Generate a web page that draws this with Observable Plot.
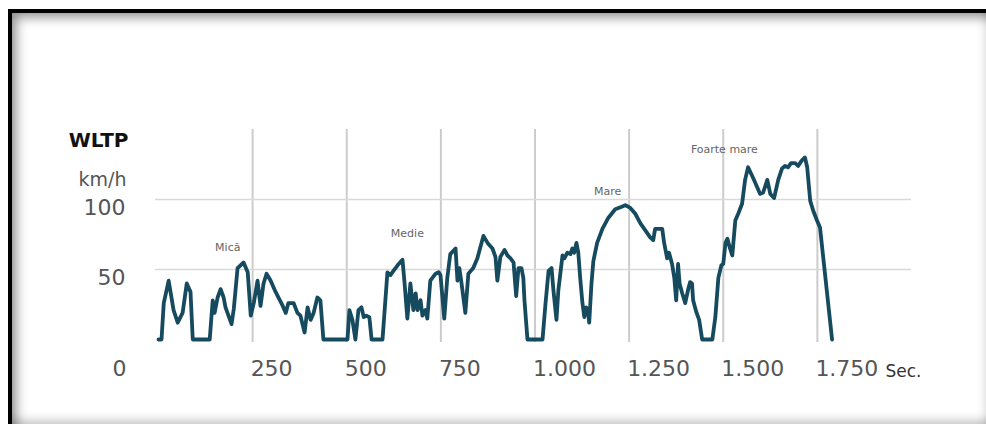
<!DOCTYPE html>
<html><head><meta charset="utf-8">
<script src="https://cdn.jsdelivr.net/npm/d3@7"></script>
<script src="https://cdn.jsdelivr.net/npm/@observablehq/plot@0.6"></script>
<style>
html,body{margin:0;padding:0;background:#fff;}
#wrap{position:relative;width:986px;height:424px;overflow:hidden;background:#fff;}
#chart{position:absolute;left:0;top:0;}
#frame{position:absolute;left:8px;top:9px;right:0;bottom:0;border-top:4px solid #000;border-left:4px solid #000;
  box-shadow: inset 12px 12px 12px -8px rgba(0,0,0,.45), inset 0 -10px 10px -6px rgba(0,0,0,.22), inset -8px 0 8px -6px rgba(0,0,0,.12);
  pointer-events:none;}
</style></head>
<body><div id="wrap"><div id="chart"></div><div id="frame"></div></div>
<script>
// WLTP speed profile (seconds, km/h)
const time = [0,8,14,27,40,51,64,75,85,91,136,144,149,157,165,173,178,194,200,210,226,237,245,253,263,271,279,287,298,311,330,338,345,359,369,377,388,396,404,412,422,430,438,
  502,507,515,523,531,539,545,552,560,566,595,608,616,624,635,648,653,661,669,677,683,688,696,701,709,714,722,736,744,749,759,767,775,789,794,799,804,815,823,836,847,855,863,874,887,895,900,908,919,927,935,943,950,956,964,969,972,980,
  1020,1028,1036,1044,1049,1057,1062,1073,1078,1086,1094,1099,1104,1110,1115,1120,1126,1131,1136,1142,1144,1150,1155,1165,1179,1195,1213,1232,1240,1253,1266,1280,1293,1306,1314,1319,1327,1338,1343,1351,1356,1364,1370,1375,1380,1384,1391,1399,1407,1412,1417,1420,1428,1436,1444,
  1471,1479,1487,1495,1500,1506,1511,1518,1524,1532,1540,1550,1558,1566,1580,1598,1606,1617,1625,1635,1646,1656,1664,1672,1680,1691,1699,1709,1717,1723,1731,1739,1749,1757,1789];
const speed = [0,0,26,42,21,12,19,40,34,0,0,28,19,30,36,30,23,11,22,51,55,48,17,26,42,24,40,47,42,34,24,19,26,26,19,17,5,23,14,19,30,28,0,
  0,21,14,0,21,23,16,17,16,0,0,48,46,49,53,57,42,15,40,21,33,21,28,17,21,15,42,47,48,46,15,44,61,65,42,51,42,19,47,51,58,66,74,69,65,59,42,59,64,60,58,55,31,51,51,44,28,0,
  0,26,49,51,35,14,35,60,58,62,61,65,62,69,62,44,26,16,23,17,12,40,56,69,79,87,93,95,96,94,90,83,78,73,71,79,79,79,69,58,62,54,44,28,54,40,33,26,36,41,40,28,20,14,0,
  0,16,44,53,54,69,72,65,60,85,90,97,114,123,115,104,105,114,104,101,114,122,124,123,126,126,124,128,130,123,99,92,85,80,0];
const xTicks = [250,500,750,1000,1250,1500,1750];
const yTicks = [50,100];
const yZero = [0];
const phases = ["Mică","Medie","Mare","Foarte mare"];
const phaseT = [184,661,1193,1503];
const phaseV = [66,76,106,136];

const data = time.map((t,i)=>({t, v: speed[i]}));
const fmt = d => d3.format(",")(d).replace(/,/g,".");
const font = "DejaVu Sans";

const plot = Plot.plot({
  width:986, height:424,
  marginLeft:158, marginRight:75, marginTop:129, marginBottom:85,
  style:{background:"transparent", fontFamily:font},
  x:{domain:[0,2000], axis:null},
  y:{domain:[0,150], axis:null},
  marks:[
    Plot.gridX(xTicks, {stroke:"#cccccc", strokeOpacity:1, strokeWidth:2, insetBottom:-3}),
    Plot.gridY(yTicks, {stroke:"#d9d9d9", strokeOpacity:1, strokeWidth:1.6, insetLeft:-3}),
    Plot.axisX(xTicks, {tickSize:0, tickFormat:fmt, textAnchor:"start", fontSize:22, fill:"#555", dx:-2, dy:12, label:null}),
    Plot.axisY(yTicks, {tickSize:0, tickPadding:33, fontSize:22, fill:"#555", dy:8, label:null}),
    Plot.axisY(yZero, {tickSize:0, tickPadding:32, fontSize:22, fill:"#555", dy:29, label:null}),
    Plot.line(data, {x:"t", y:"v", stroke:"#164a5f", strokeWidth:3.8, strokeLinejoin:"round"}),
    Plot.text(phases, {x:(d,i)=>phaseT[i], y:(d,i)=>phaseV[i], fontSize:11, fill:"#666"}),
    Plot.text(["WLTP"], {frameAnchor:"top-left", textAnchor:"end", dx:-30, dy:3, fontSize:20, fontWeight:"bold", fill:"#111"}),
    Plot.text(["km/h"], {frameAnchor:"top-left", textAnchor:"end", dx:-32, dy:43, fontSize:19, fill:"#555"}),
    Plot.text(["Sec."], {frameAnchor:"bottom-right", textAnchor:"start", dx:-26, dy:37, fontSize:17, fill:"#333"})
  ]
});
document.getElementById("chart").appendChild(plot);
</script>
</body></html>
